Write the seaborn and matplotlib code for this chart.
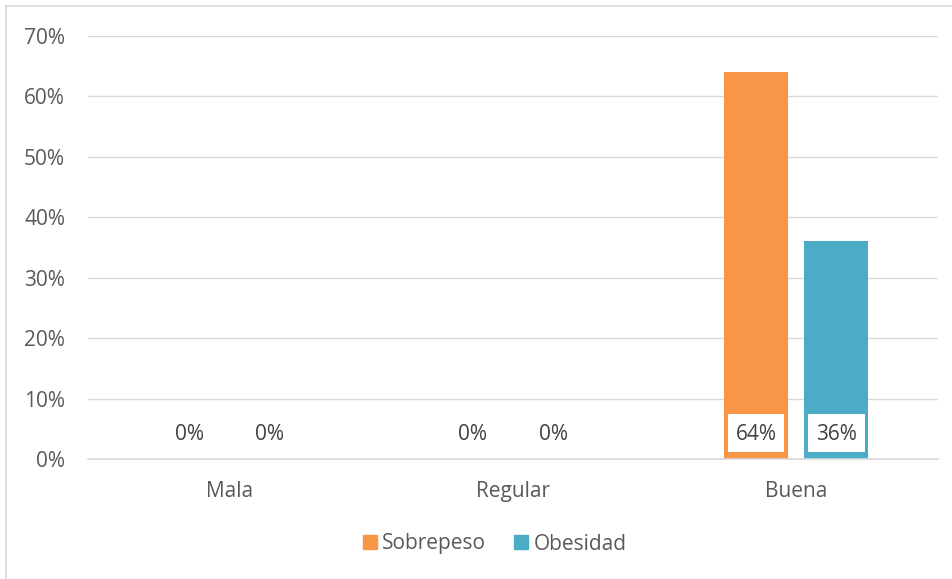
import matplotlib
matplotlib.use("Agg")
import matplotlib.pyplot as plt
import seaborn as sns
import pandas as pd
from matplotlib.lines import Line2D
from matplotlib.patches import Rectangle

categories = ["Mala", "Regular", "Buena"]
series = ["Sobrepeso", "Obesidad"]
sobrepeso = [0, 0, 64]
obesidad = [0, 0, 36]
yticks = [0, 10, 20, 30, 40, 50, 60, 70]
colors = {"Sobrepeso": "#F79646", "Obesidad": "#4BACC6"}

df = pd.DataFrame({
    "cat": categories * 2,
    "serie": [series[0]] * 3 + [series[1]] * 3,
    "val": sobrepeso + obesidad,
})

sns.set_theme(style="white")
plt.rcParams["font.family"] = ["Open Sans", "DejaVu Sans"]
text_color = "#595959"
fs = 15

fig = plt.figure(figsize=(9.53, 5.79), dpi=100)
ax = fig.add_axes([88 / 953, 1 - 459 / 579, (938 - 88) / 953, (459 - 36) / 579])

sns.barplot(data=df, x="cat", y="val", hue="serie", order=categories,
            hue_order=series, palette=colors, width=0.566, gap=0.2,
            saturation=1, ax=ax, legend=False, linewidth=0)

ax.set_ylim(0, 70)
ax.set_xlim(-0.5, 2.5)
ax.set_yticks(yticks)
ax.set_yticklabels([f"{t}%" for t in yticks])
ax.set_xlabel("")
ax.set_ylabel("")
ax.grid(axis="y", color="#D9D9D9", linewidth=1)
ax.set_axisbelow(True)
for s in ["top", "right", "left"]:
    ax.spines[s].set_visible(False)
ax.spines["bottom"].set_color("#D9D9D9")
ax.spines["bottom"].set_linewidth(1.2)
ax.tick_params(axis="both", length=0, labelsize=fs, colors=text_color)
ax.tick_params(axis="y", pad=16.5)
ax.tick_params(axis="x", pad=16)

# value labels near the base of each bar, boxed in white when on a bar
for container, name in zip(ax.containers, series):
    for bar, v in zip(container, df[df.serie == name]["val"]):
        x0 = bar.get_x()
        w = bar.get_width()
        if v > 0:
            ax.add_patch(Rectangle((x0 + 0.014, 1.2), w - 0.028, 6.25,
                                   facecolor="white", edgecolor="none",
                                   zorder=3))
        ax.text(x0 + w / 2, 4.1, f"{v}%", ha="center", va="center",
                fontsize=fs, color="#404040", zorder=4)

handles = [Line2D([0], [0], marker="s", linestyle="", markersize=9.5,
                  markerfacecolor=colors[s], markeredgecolor=colors[s])
           for s in series]
fig.legend(handles, series, loc="center", bbox_to_anchor=(492 / 953, 1 - 544 / 579),
           ncol=2, frameon=False, fontsize=fs, handletextpad=0.0,
           handlelength=1.2, columnspacing=1.1, labelcolor=text_color)

# chart frame
fig.add_artist(Line2D([6 / 953, 6 / 953], [0, 1 - 6 / 579], color="#D9D9D9",
                      linewidth=1.2, transform=fig.transFigure))
fig.add_artist(Line2D([6 / 953, 1], [1 - 6 / 579, 1 - 6 / 579], color="#D9D9D9",
                      linewidth=1.2, transform=fig.transFigure))

fig.savefig("out.png", dpi=100)
